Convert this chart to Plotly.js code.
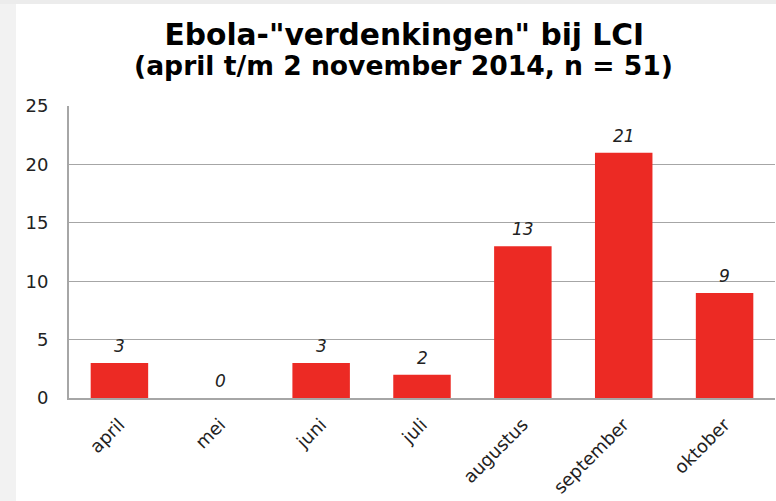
<!DOCTYPE html>
<html>
<head>
<meta charset="utf-8">
<script src="https://cdn.plot.ly/plotly-3.0.1.min.js"></script>
<style>
html,body{margin:0;padding:0;background:#fff;}
#chart{width:776px;height:501px;}
</style>
</head>
<body>
<div id="chart"></div>
<script>
var months = ['april','mei','juni','juli','augustus','september','oktober'];
var counts = [3, 0, 3, 2, 13, 21, 9];
var yTicks = [0, 5, 10, 15, 20, 25];
var titleText = 'Ebola-"verdenkingen" bij LCI';
var subtitleText = '(april t/m 2 november 2014, n = 51)';

var trace = {
  type: 'bar',
  x: months,
  y: counts,
  marker: {color: '#EC2A24', line: {width: 0}},
  hoverinfo: 'x+y'
};

var labelAnnotations = months.map(function(m, i){
  return {
    x: m, y: counts[i], xref: 'x', yref: 'y',
    text: String(counts[i]),
    showarrow: false,
    yanchor: 'bottom',
    yshift: 5,
    font: {family: 'DejaVu Sans', size: 17, color: '#222', style: 'italic'}
  };
});

labelAnnotations.push({
  xref: 'paper', yref: 'paper', x: 0.4745, y: 1.137,
  xanchor: 'center', yanchor: 'middle',
  text: '<b>' + subtitleText + '</b>', showarrow: false,
  font: {family: 'DejaVu Sans', size: 26.6, color: '#000'}
});

var layout = {
  width: 776, height: 501,
  margin: {l: 69, r: 1, t: 106, b: 103, pad: 0},
  paper_bgcolor: '#fff',
  plot_bgcolor: '#fff',
  showlegend: false,
  bargap: 0.43,
  title: {
    text: '<b>' + titleText + '</b>',
    x: 0.521, xanchor: 'center',
    y: 0.931, yanchor: 'middle', yref: 'container',
    font: {family: 'DejaVu Sans', size: 29.7, color: '#000'}
  },
  xaxis: {
    type: 'category',
    tickangle: -45,
    tickfont: {family: 'DejaVu Sans', size: 18, color: '#222'},
    showline: true, linecolor: '#a6a6a6', linewidth: 2,
    showgrid: false, ticks: '',
    ticklabelstandoff: 7,
    fixedrange: true
  },
  yaxis: {
    range: [0, 25],
    tickvals: yTicks,
    ticktext: yTicks.map(String),
    tickfont: {family: 'DejaVu Sans', size: 18, color: '#222'},
    showline: true, linecolor: '#a6a6a6', linewidth: 2,
    showgrid: true, gridcolor: '#a6a6a6', gridwidth: 1.3,
    zeroline: false, ticks: '',
    ticklabelstandoff: 15,
    fixedrange: true
  },
  shapes: [
    {type: 'rect', xref: 'paper', yref: 'paper', x0: -0.1, x1: (16-69)/706, y0: -0.36, y1: 1.37,
     fillcolor: '#f2f2f2', line: {width: 0}, layer: 'below'},
    {type: 'rect', xref: 'paper', yref: 'paper', x0: -0.1, x1: 1.01, y0: (398-4)/292, y1: 1.37,
     fillcolor: '#ececec', line: {width: 0}, layer: 'below'}
  ],
  annotations: labelAnnotations
};

Plotly.newPlot('chart', [trace], layout, {displayModeBar: false, staticPlot: true});
</script>
</body>
</html>
